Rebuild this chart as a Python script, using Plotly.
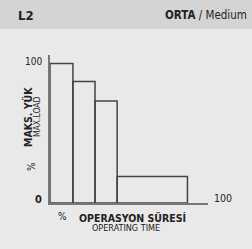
import plotly.graph_objects as go

# Data
edges = [0, 14.5, 28.5, 42.5, 87]   # operating time % boundaries
loads = [100, 87, 73, 19]           # max load %
y_ticks = [0, 100]
x_end_label = "100"

W, H = 252, 249
L, R, T, B = 50, 44, 55, 46
PW, PH = W - L - R, H - T - B

def px(x):
    return (x - L) / PW

def py(y):
    return (H - B - y) / PH

FONT = "DejaVu Sans Condensed, Liberation Sans Narrow, Roboto, sans-serif"

centers = [(edges[i] + edges[i + 1]) / 2 for i in range(len(loads))]
widths = [edges[i + 1] - edges[i] for i in range(len(loads))]

fig = go.Figure()
fig.add_trace(go.Bar(
    x=centers, y=loads, width=widths,
    marker=dict(color="rgba(0,0,0,0)", line=dict(color="#444", width=1.5)),
    hoverinfo="skip", showlegend=False,
))

fig.update_layout(
    width=W, height=H,
    margin=dict(l=L, r=R, t=T, b=B),
    paper_bgcolor="#e9e9e9", plot_bgcolor="#e9e9e9",
    xaxis=dict(range=[0, 100], showgrid=False, zeroline=False, showticklabels=False,
               showline=True, linecolor="#777", linewidth=2, ticks=""),
    yaxis=dict(range=[0, 106], showgrid=False, zeroline=False, showticklabels=False,
               showline=True, linecolor="#777", linewidth=2, ticks=""),
    font=dict(family=FONT, color="#222"),
    shapes=[dict(type="rect", xref="paper", yref="paper",
                 x0=px(0), x1=px(W), y0=py(29), y1=py(0),
                 fillcolor="#d4d4d4", line=dict(width=0), layer="below")],
)

ann = []
def add(text, x, y, size, bold=False, xanchor="center", angle=0, color="#222"):
    ann.append(dict(text=f"<b>{text}</b>" if bold else text, xref="paper", yref="paper",
                    x=px(x), y=py(y), xanchor=xanchor, yanchor="middle",
                    showarrow=False, textangle=angle,
                    font=dict(size=size, family=FONT, color=color)))

add("L2", 16, 15, 13, bold=True, xanchor="left")
add("<b>ORTA</b> / Medium", 249, 15, 11.5, xanchor="right")
add(str(y_ticks[1]), 44, 62, 10, xanchor="right")
add(str(y_ticks[0]), 44, 199, 11, bold=True, xanchor="right")
add(x_end_label, 212, 198, 10.5, xanchor="left")
add("%", 62, 216, 10)
add("OPERASYON SÜRESİ", 132, 217, 10.5, bold=True)
add("OPERATING TIME", 126, 228, 9)
add("MAKS. YÜK", 27, 117, 10.5, bold=True, angle=-90)
add("MAX.LOAD", 37, 117, 8.5, angle=-90)
add("%", 31, 167, 10, angle=-90)
fig.update_layout(annotations=ann)

fig.write_html("out.html", config={"displayModeBar": False},
               post_script="document.body.style.margin='0';")
